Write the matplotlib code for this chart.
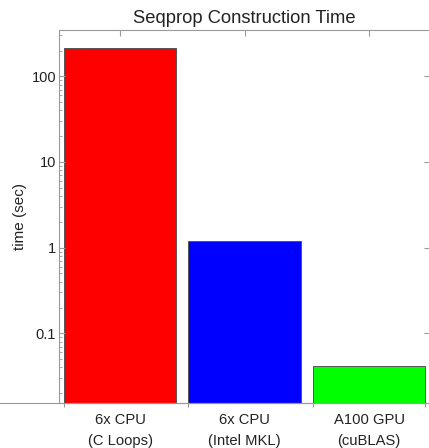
import numpy as np
import matplotlib.pyplot as plt
from matplotlib.lines import Line2D
from matplotlib.ticker import LogLocator, FixedLocator, NullFormatter

plt.rcParams['font.family'] = ['Liberation Sans', 'DejaVu Sans']

# construction times per backend
labels = ["6x CPU\n(C Loops)", "6x CPU\n(Intel MKL)", "A100 GPU\n(cuBLAS)"]
times = [212, 1.21, 0.042]
colors = ["#ff0000", "#0000ff", "#00ff00"]

frame_color = "#9a9a9a"
text_color = "#222222"

fig = plt.figure(figsize=(4.29, 4.48), dpi=100)
ax = fig.add_axes([0.1375, 0.1004, 0.865, 0.8326])

pos = np.arange(1, len(times) + 1)
width = 0.9
ax.bar(pos, times, width=width, color=colors, edgecolor="#555555",
       linewidth=0.7, bottom=0.0001)

ax.set_yscale("log")
ax.set_ylim(0.01536, 347)
ax.set_xlim(0.51, 3.49)

ax.yaxis.set_major_locator(FixedLocator([0.1, 1, 10, 100]))
ax.set_yticklabels(["0.1", "1", "10", "100"])
ax.yaxis.set_minor_locator(LogLocator(base=10, subs=np.arange(2, 10)))
ax.yaxis.set_minor_formatter(NullFormatter())
ax.tick_params(axis="y", which="major", direction="in", length=4,
               color=frame_color, labelsize=10.5, labelcolor=text_color,
               right=True, pad=2)
ax.tick_params(axis="y", which="minor", direction="in", length=2,
               color=frame_color, right=False)

# category ticks along the top, bar boundaries along the bottom
edges = list(pos - width / 2) + [pos[-1] + width / 2]
ax.set_xticks(edges)
ax.set_xticklabels([])
ax.tick_params(axis="x", direction="out", length=3, color=frame_color)
for x, lab in zip(pos, labels):
    ax.text(x, -0.028, lab, transform=ax.get_xaxis_transform(), ha="center",
            va="top", fontsize=10.6, color=text_color, linespacing=1.6)

top = ax.secondary_xaxis("top")
top.set_xticks(pos)
top.set_xticklabels([])
top.tick_params(direction="in", length=4, color=frame_color)
top.spines["top"].set_visible(False)

for s in ax.spines.values():
    s.set_color(frame_color)
    s.set_linewidth(0.8)

# baseline runs across the whole figure width
fig.add_artist(Line2D([0, 1], [0.1004, 0.1004], color=frame_color,
                      linewidth=0.8, transform=fig.transFigure))

ax.set_ylabel("time (sec)", fontsize=11, color=text_color)
ax.yaxis.set_label_coords(-0.085, 0.5)
ax.set_title("Seqprop Construction Time", fontsize=13.2, color=text_color, pad=5)

fig.savefig("out.png", dpi=100)
